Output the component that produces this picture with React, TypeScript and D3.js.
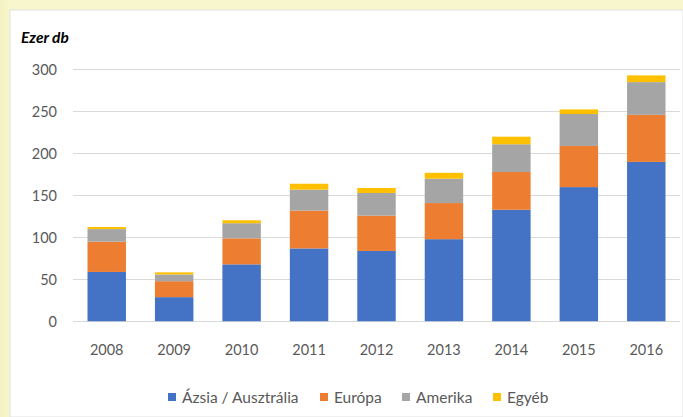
import React from "react";
import * as d3 from "d3";

const years = ["2008", "2009", "2010", "2011", "2012", "2013", "2014", "2015", "2016"];
const asia = [59, 29, 68, 87, 84, 98, 133, 160, 190];
const europe = [36, 19, 31, 45, 42, 43, 45, 49, 56];
const america = [15, 8, 18, 25, 27, 29, 33, 38, 39];
const other = [2.5, 2.5, 3.5, 7, 6, 7, 9, 5.5, 8];
const seriesNames = ["Ázsia / Ausztrália", "Európa", "Amerika", "Egyéb"];
const yTicks = [0, 50, 100, 150, 200, 250, 300];
const colors = ["#4472c4", "#ed7d31", "#a5a5a5", "#ffc000"];

const W = 683;
const H = 417;
const plotLeft = 73;
const plotRight = 680;
const yTop = 69.5;
const yBottom = 321.5;
const font = "Lato, 'Open Sans', sans-serif";
const textColor = "#595959";

export default function App() {
  const rows = years.map((y, i) => ({
    year: y,
    s0: asia[i],
    s1: europe[i],
    s2: america[i],
    s3: other[i],
  }));
  const keys = ["s0", "s1", "s2", "s3"];
  const stack = d3.stack<any>().keys(keys)(rows);
  const x = d3.scaleBand().domain(years).range([plotLeft, plotRight]).paddingInner(0.43).paddingOuter(0.215);
  const y = d3.scaleLinear().domain([0, 300]).range([yBottom, yTop]);

  const legendItems = [
    { x: 168, name: seriesNames[0], color: colors[0] },
    { x: 320, name: seriesNames[1], color: colors[1] },
    { x: 402, name: seriesNames[2], color: colors[2] },
    { x: 493, name: seriesNames[3], color: colors[3] },
  ];

  return (
    <svg width={W} height={H} style={{ position: "absolute", left: 0, top: 0, display: "block" }}>
      <defs>
        <linearGradient id="bgL" x1="0" x2="1" y1="0" y2="0">
          <stop offset="0" stopColor="#f3f1c0" />
          <stop offset="1" stopColor="#f8f6cc" />
        </linearGradient>
      </defs>
      <rect x={0} y={0} width={W} height={H} fill="#f8f6cc" />
      <rect x={0} y={0} width={10} height={H} fill="url(#bgL)" />
      <rect x={10} y={10} width={W - 10} height={H - 10} fill="#ffffff" stroke="#e0e0e0" strokeWidth={1} />
      <text x={21} y={43} fontFamily={font} fontSize={15.5} fontWeight="bold" fontStyle="italic" fill="#000">
        Ezer db
      </text>
      {yTicks.map((t) => (
        <g key={t}>
          <line x1={plotLeft} x2={plotRight} y1={y(t)} y2={y(t)} stroke="#d9d9d9" strokeWidth={1.2} />
          <text x={57} y={y(t)} dy="0.36em" textAnchor="end" fontFamily={font} fontSize={14.5} fill={textColor}>
            {t}
          </text>
        </g>
      ))}
      {stack.map((layer, li) => (
        <g key={li} fill={colors[li]}>
          {layer.map((d, i) => (
            <rect
              key={i}
              x={x(years[i])!}
              width={x.bandwidth()}
              y={y(d[1])}
              height={y(d[0]) - y(d[1])}
            />
          ))}
        </g>
      ))}
      <line x1={plotLeft} x2={plotRight} y1={y(0)} y2={y(0)} stroke="#d9d9d9" strokeOpacity={0.55} strokeWidth={1.2} />
      {years.map((yr) => (
        <text
          key={yr}
          x={x(yr)! + x.bandwidth() / 2}
          y={355}
          textAnchor="middle"
          fontFamily={font}
          fontSize={14.5}
          fill={textColor}
        >
          {yr}
        </text>
      ))}
      {legendItems.map((it) => (
        <g key={it.name}>
          <rect x={it.x} y={393} width={8} height={8} fill={it.color} />
          <text x={it.x + 14} y={402.5} fontFamily={font} fontSize={15.5} fill={textColor}>
            {it.name}
          </text>
        </g>
      ))}
    </svg>
  );
}
